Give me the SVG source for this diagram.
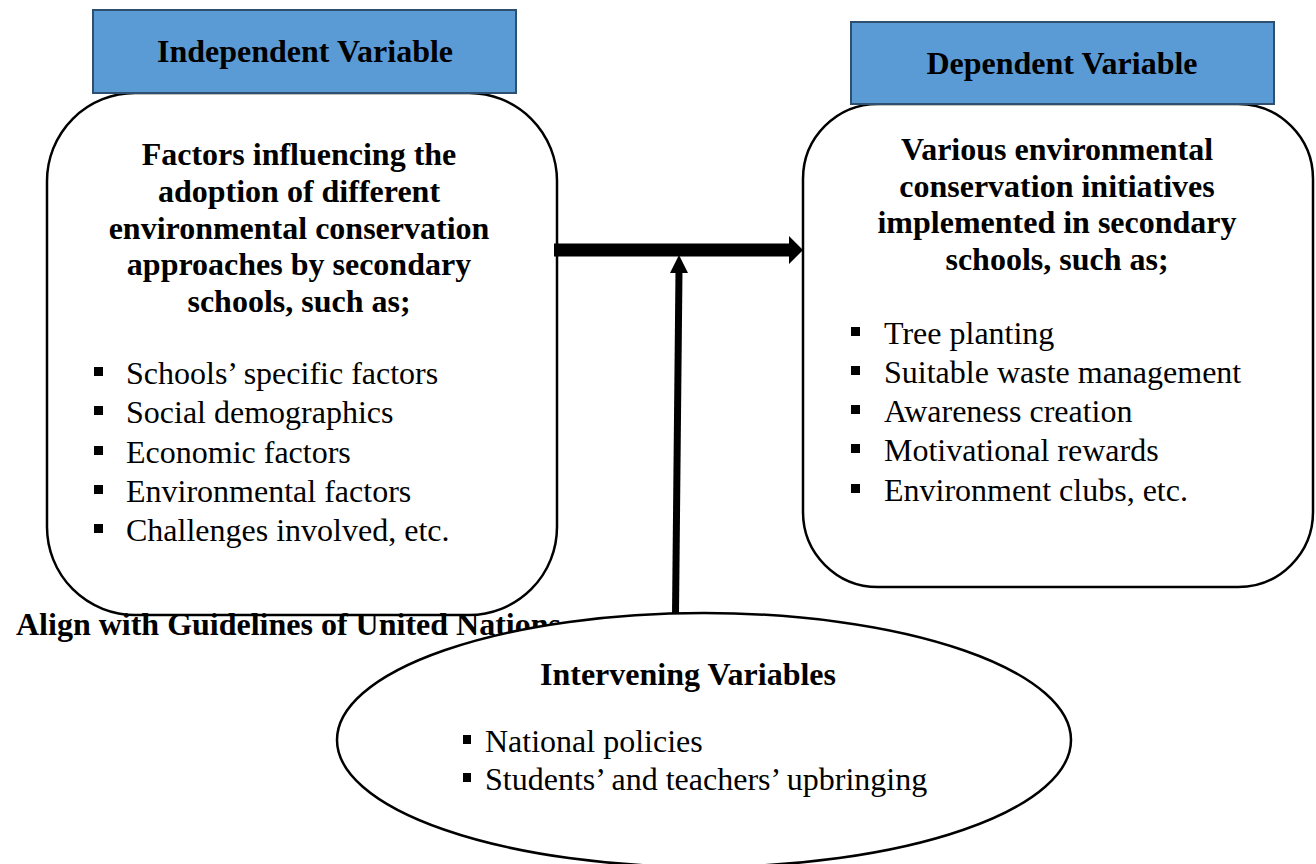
<svg xmlns="http://www.w3.org/2000/svg" width="1316" height="864" viewBox="0 0 1316 864">
<style>
  .hdr { fill: #5B9BD5; stroke: #2F4F6F; stroke-width: 2; }
  .box { fill: #FFFFFF; stroke: #000000; stroke-width: 2.5; }
  .t { font-family: "Liberation Serif", "Times New Roman", serif; font-size: 32px; fill: #000000; }
  .b { font-weight: bold; }
  .c { text-anchor: middle; }
  .sq { fill: #000000; }
</style>
<rect x="0" y="0" width="1316" height="864" fill="#FFFFFF"/>

<g id="independent">
  <path class="box" d="M135,93 H469 A88,88 0 0 1 557,181 V527 A88,88 0 0 1 469,615 H135 A88,88 0 0 1 47,527 V181 A88,88 0 0 1 135,93 Z"/>
  <rect class="hdr" x="93" y="10" width="423" height="83"/>
  <text class="t b c" x="305" y="62">Independent Variable</text>
  <text class="t b c" x="299" y="165">Factors influencing the</text>
  <text class="t b c" x="299" y="202">adoption of different</text>
  <text class="t b c" x="299" y="239">environmental conservation</text>
  <text class="t b c" x="299" y="275">approaches by secondary</text>
  <text class="t b c" x="299" y="312">schools, such as;</text>
  <rect class="sq" x="94" y="367" width="9" height="9"/>
  <rect class="sq" x="94" y="406" width="9" height="9"/>
  <rect class="sq" x="94" y="446" width="9" height="9"/>
  <rect class="sq" x="94" y="485" width="9" height="9"/>
  <rect class="sq" x="94" y="524" width="9" height="9"/>
  <text class="t" x="126" y="384">Schools’ specific factors</text>
  <text class="t" x="126" y="423">Social demographics</text>
  <text class="t" x="126" y="463">Economic factors</text>
  <text class="t" x="126" y="502">Environmental factors</text>
  <text class="t" x="126" y="541">Challenges involved, etc.</text>
</g>

<g id="dependent">
  <path class="box" d="M878,104 H1238 A75,75 0 0 1 1313,179 V512 A75,75 0 0 1 1238,587 H878 A75,75 0 0 1 803,512 V179 A75,75 0 0 1 878,104 Z"/>
  <rect class="hdr" x="851" y="22" width="423" height="82"/>
  <text class="t b c" x="1062" y="74">Dependent Variable</text>
  <text class="t b c" x="1057" y="160">Various environmental</text>
  <text class="t b c" x="1057" y="197">conservation initiatives</text>
  <text class="t b c" x="1057" y="233">implemented in secondary</text>
  <text class="t b c" x="1057" y="270">schools, such as;</text>
  <rect class="sq" x="851" y="327" width="9" height="9"/>
  <rect class="sq" x="851" y="366" width="9" height="9"/>
  <rect class="sq" x="851" y="405" width="9" height="9"/>
  <rect class="sq" x="851" y="444" width="9" height="9"/>
  <rect class="sq" x="851" y="484" width="9" height="9"/>
  <text class="t" x="884" y="344">Tree planting</text>
  <text class="t" x="884" y="383">Suitable waste management</text>
  <text class="t" x="884" y="422">Awareness creation</text>
  <text class="t" x="884" y="461">Motivational rewards</text>
  <text class="t" x="884" y="501">Environment clubs, etc.</text>
</g>

<g id="align-label">
  <text class="t b" x="16" y="635">Align with Guidelines of United Nations</text>
</g>

<g id="connectors">
  <path d="M554,243.5 H789 V236 L803,250 L789,264 V256.5 H554 Z" fill="#000000"/>
  <line x1="675.5" y1="614" x2="679" y2="270" stroke="#000000" stroke-width="7"/>
  <path d="M679,255 L688,273 L670,273 Z" fill="#000000"/>
</g>

<g id="intervening">
  <ellipse class="box" cx="704" cy="740" rx="367" ry="127"/>
  <text class="t b c" x="688" y="685">Intervening Variables</text>
  <rect class="sq" x="463" y="735" width="8" height="9"/>
  <rect class="sq" x="463" y="773" width="8" height="9"/>
  <text class="t" x="485" y="752">National policies</text>
  <text class="t" x="485" y="790">Students’ and teachers’ upbringing</text>
</g>
</svg>
